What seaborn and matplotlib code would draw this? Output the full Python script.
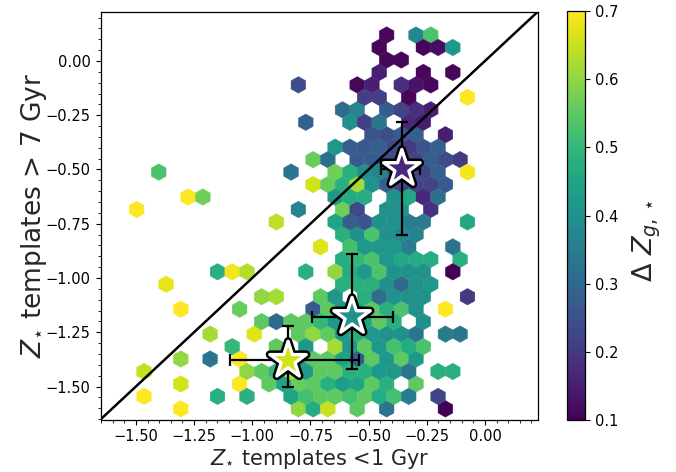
import numpy as np
import matplotlib
matplotlib.use("Agg")
import matplotlib.pyplot as plt
import matplotlib.patheffects as pe
import seaborn as sns

sns.set_style("ticks")
plt.rcParams['font.family'] = ['DejaVu Sans']
plt.rcParams['mathtext.fontset'] = 'dejavusans'

# ---- hex cells: centre x, centre y, mean Delta Z ----
hex_x = (
    [-1.307, -0.802, -0.739, -0.675, -0.549, -0.423, -0.170] +
    [-1.465, -1.149, -1.023, -0.833, -0.770, -0.707, -0.644, -0.581, -0.517, -0.454, -0.391, -0.328, -0.201] +
    [-1.307, -1.054, -0.928, -0.865, -0.802, -0.739, -0.675, -0.612, -0.549, -0.486, -0.423, -0.296] +
    [-1.465, -1.023, -0.960, -0.896, -0.833, -0.770, -0.707, -0.644, -0.581, -0.517, -0.454, -0.391, -0.328, -0.201, -0.138] +
    [-1.307, -1.181, -1.054, -0.802, -0.739, -0.675, -0.612, -0.549, -0.486, -0.423, -0.359, -0.296] +
    [-1.086, -0.896, -0.770, -0.644, -0.581, -0.517, -0.454, -0.391, -0.328, -0.265] +
    [-1.181, -0.991, -0.802, -0.739, -0.675, -0.612, -0.549, -0.486, -0.423, -0.359, -0.296, -0.170, -0.107] +
    [-0.960, -0.896, -0.833, -0.770, -0.707, -0.644, -0.581, -0.517, -0.454, -0.391, -0.265] +
    [-1.307, -1.054, -0.739, -0.675, -0.612, -0.549, -0.486, -0.423, -0.359, -0.296, -0.170] +
    [-0.960, -0.896, -0.707, -0.644, -0.517, -0.454, -0.391, -0.328, -0.265, -0.075] +
    [-1.370, -0.612, -0.549, -0.486, -0.423, -0.359, -0.296, -0.233] +
    [-1.149, -1.086, -1.023, -0.770, -0.644, -0.581, -0.517, -0.454, -0.391, -0.328, -0.265, -0.138] +
    [-0.612, -0.549, -0.486, -0.423, -0.359, -0.296, -0.233, -0.107] +
    [-0.707, -0.581, -0.517, -0.454, -0.391, -0.328, -0.138] +
    [-0.612, -0.549, -0.486, -0.423, -0.359, -0.296] +
    [-0.896, -0.644, -0.581, -0.517, -0.454, -0.391, -0.328, -0.265, -0.075] +
    [-1.497, -0.802, -0.612, -0.549, -0.423, -0.359, -0.233] +
    [-1.276, -1.212, -0.644, -0.581, -0.517, -0.391, -0.328, -0.265, -0.201] +
    [-0.739, -0.675, -0.612, -0.549, -0.486, -0.423, -0.359, -0.296, -0.233, -0.170] +
    [-1.402, -0.833, -0.644, -0.581, -0.517, -0.454, -0.391, -0.328, -0.265, -0.201, -0.075] +
    [-0.739, -0.675, -0.549, -0.486, -0.423, -0.359, -0.296, -0.233, -0.170, -0.107] +
    [-0.644, -0.581, -0.517, -0.454, -0.391, -0.328, -0.265, -0.201] +
    [-0.486, -0.423, -0.359, -0.296, -0.170] +
    [-0.770, -0.581, -0.517, -0.454, -0.328, -0.265] +
    [-0.612, -0.549, -0.423, -0.359, -0.296, -0.233] +
    [-0.517, -0.454, -0.328, -0.075] +
    [-0.802, -0.549, -0.486, -0.359, -0.296, -0.233] +
    [-0.454, -0.265, -0.138] +
    [-0.423, -0.359] +
    [-0.454, -0.265, -0.201, -0.138] +
    [-0.423, -0.296, -0.233]
)
hex_y = (
    [-1.603] * 7 + [-1.546] * 13 + [-1.488] * 12 + [-1.431] * 15 +
    [-1.373] * 12 + [-1.316] * 10 + [-1.259] * 13 + [-1.201] * 11 +
    [-1.144] * 11 + [-1.086] * 10 + [-1.029] * 8 + [-0.972] * 12 +
    [-0.914] * 8 + [-0.857] * 7 + [-0.799] * 6 + [-0.742] * 9 +
    [-0.684] * 7 + [-0.627] * 9 + [-0.570] * 10 + [-0.512] * 11 +
    [-0.455] * 10 + [-0.397] * 8 + [-0.340] * 5 + [-0.282] * 6 +
    [-0.225] * 6 + [-0.168] * 4 + [-0.110] * 6 + [-0.053] * 3 +
    [0.005] * 2 + [0.062] * 4 + [0.120] * 3
)
hex_dz = (
    [0.70, 0.60, 0.47, 0.65, 0.55, 0.33, 0.10] +
    [0.70, 0.48, 0.48, 0.45, 0.52, 0.55, 0.55, 0.52, 0.55, 0.47, 0.52, 0.35, 0.22] +
    [0.66, 0.70, 0.55, 0.45, 0.56, 0.55, 0.48, 0.43, 0.45, 0.55, 0.48, 0.55] +
    [0.65, 0.60, 0.55, 0.50, 0.62, 0.42, 0.55, 0.55, 0.48, 0.48, 0.42, 0.42, 0.33, 0.48, 0.48] +
    [0.60, 0.33, 0.70, 0.42, 0.55, 0.55, 0.45, 0.28, 0.55, 0.42, 0.55, 0.42] +
    [0.50, 0.55, 0.42, 0.62, 0.42, 0.55, 0.42, 0.52, 0.47, 0.53] +
    [0.62, 0.67, 0.55, 0.60, 0.55, 0.42, 0.48, 0.42, 0.40, 0.40, 0.33, 0.35, 0.33] +
    [0.55, 0.30, 0.55, 0.55, 0.50, 0.42, 0.48, 0.45, 0.55, 0.48, 0.40] +
    [0.70, 0.56, 0.27, 0.55, 0.42, 0.45, 0.55, 0.48, 0.53, 0.40, 0.70] +
    [0.60, 0.62, 0.55, 0.42, 0.48, 0.31, 0.40, 0.40, 0.40, 0.20] +
    [0.68, 0.48, 0.48, 0.48, 0.40, 0.30, 0.40, 0.42] +
    [0.48, 0.69, 0.63, 0.48, 0.60, 0.47, 0.42, 0.53, 0.40, 0.40, 0.40, 0.10] +
    [0.47, 0.50, 0.53, 0.42, 0.46, 0.47, 0.47, 0.48] +
    [0.67, 0.52, 0.42, 0.42, 0.42, 0.35, 0.33] +
    [0.48, 0.40, 0.53, 0.40, 0.38, 0.37] +
    [0.64, 0.45, 0.28, 0.26, 0.40, 0.40, 0.35, 0.35, 0.46] +
    [0.70, 0.37, 0.57, 0.23, 0.40, 0.40, 0.18] +
    [0.70, 0.57, 0.42, 0.47, 0.47, 0.40, 0.46, 0.17, 0.32] +
    [0.66, 0.56, 0.48, 0.62, 0.40, 0.28, 0.22, 0.22, 0.22, 0.27] +
    [0.53, 0.33, 0.57, 0.48, 0.40, 0.37, 0.30, 0.25, 0.22, 0.28, 0.69] +
    [0.56, 0.32, 0.27, 0.27, 0.24, 0.20, 0.22, 0.28, 0.24, 0.20] +
    [0.42, 0.28, 0.27, 0.28, 0.23, 0.20, 0.25, 0.28] +
    [0.25, 0.24, 0.27, 0.28, 0.15] +
    [0.28, 0.40, 0.21, 0.33, 0.17, 0.14] +
    [0.31, 0.37, 0.27, 0.22, 0.18, 0.15] +
    [0.21, 0.21, 0.11, 0.70] +
    [0.24, 0.11, 0.15, 0.18, 0.13, 0.11] +
    [0.15, 0.11, 0.11] +
    [0.11, 0.11] +
    [0.11, 0.11, 0.12, 0.42] +
    [0.11, 0.38, 0.53]
)

# ---- median stars with error bars ----
star_x = [-0.357, -0.571, -0.846]
star_y = [-0.496, -1.178, -1.380]
star_xerr_lo = [0.090, 0.172, 0.251]
star_xerr_hi = [0.080, 0.178, 0.303]
star_yerr_lo = [0.304, 0.240, 0.123]
star_yerr_hi = [0.213, 0.290, 0.161]
star_dz = [0.17, 0.40, 0.66]

axis_ticks = [-1.5, -1.25, -1.0, -0.75, -0.5, -0.25, 0.0]
cbar_ticks = [0.1, 0.2, 0.3, 0.4, 0.5, 0.6, 0.7]

W, H = 676, 472
fig = plt.figure(figsize=(W / 100, H / 100), dpi=100)
ax = fig.add_axes([100.5 / W, 1 - 419.5 / H, 437.5 / W, 408 / H])
cax = fig.add_axes([567 / W, 1 - 420 / H, 18 / W, 409 / H])

hb = ax.hexbin(hex_x, hex_y, C=hex_dz, reduce_C_function=np.mean,
               gridsize=(30, 18), extent=(-1.8125, 0.0829, -1.7179, 0.3492),
               cmap='viridis', vmin=0.1, vmax=0.7,
               linewidths=0.3, edgecolors='face', zorder=1)

lims = (-1.652, 0.228)
ax.plot([-3, 2], [-3, 2], color='black', lw=1.8, zorder=2)

ax.errorbar(star_x, star_y,
            xerr=[star_xerr_lo, star_xerr_hi], yerr=[star_yerr_lo, star_yerr_hi],
            fmt='none', ecolor='black', elinewidth=1.6, capsize=4, capthick=1.6, zorder=3)

sc = ax.scatter(star_x, star_y, c=star_dz, cmap='viridis', vmin=0.1, vmax=0.7,
                marker='*', s=760, edgecolors='white', linewidths=2.4, zorder=4)
sc.set_path_effects([pe.Stroke(linewidth=6.0, foreground='black'), pe.Normal()])

ax.set_xlim(lims)
ax.set_ylim(lims)
ax.set_xticks(axis_ticks)
ax.set_yticks(axis_ticks)
ax.minorticks_on()
ax.tick_params(which='major', direction='out', length=3.5, width=0.8, labelsize=10.5, colors='black')
ax.tick_params(which='minor', direction='out', length=2, width=0.6, colors='black')
for s in ax.spines.values():
    s.set_color('black')
    s.set_linewidth(0.9)

ax.set_xlabel(r'$Z_{\star}$ templates <1 Gyr', fontsize=15, labelpad=2)
ax.set_ylabel(r'$Z_{\star}$ templates > 7 Gyr', fontsize=19, labelpad=-2)

cb = fig.colorbar(hb, cax=cax, ticks=cbar_ticks)
cb.ax.tick_params(labelsize=10.5, length=3.5, width=0.8, colors='black')
cb.outline.set_edgecolor('black')
cb.outline.set_linewidth(0.9)
cb.set_label(r'$\Delta\ Z_{g,\star}$', fontsize=19.5, labelpad=9, y=0.44)

fig.savefig('out.png', dpi=100)
